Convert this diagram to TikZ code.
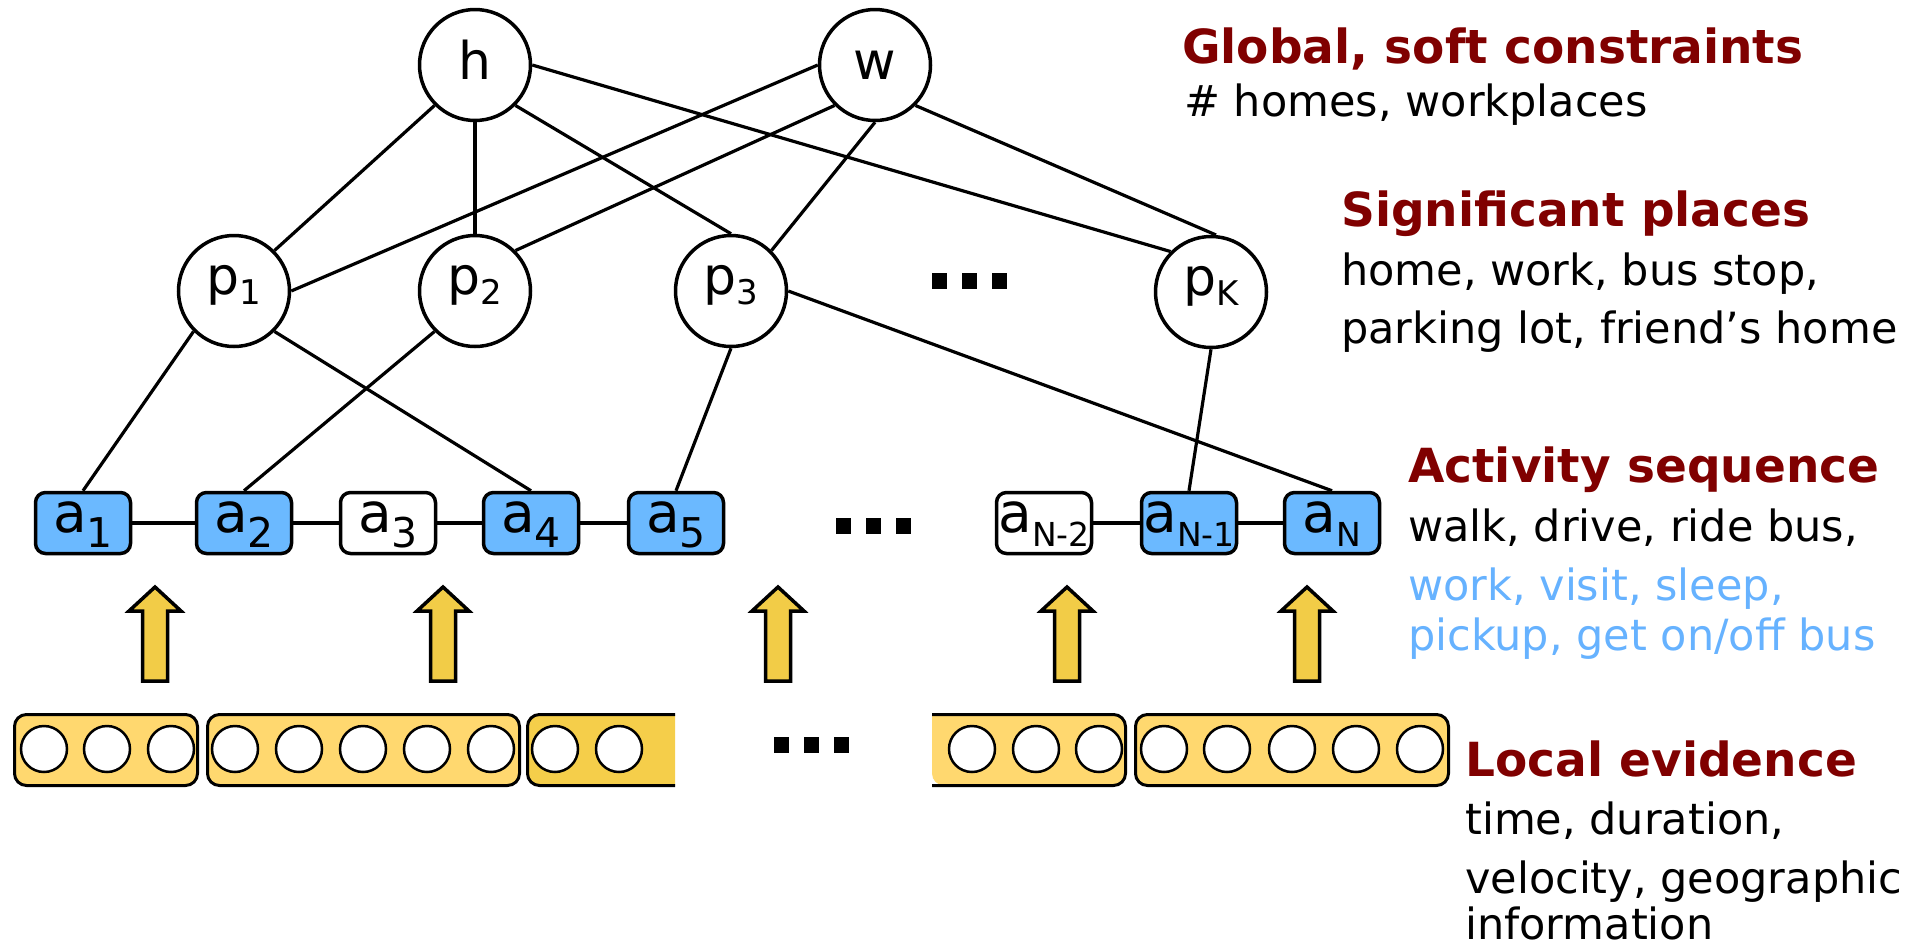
\documentclass[tikz,border=0pt]{standalone}
\usepackage{fontspec}
\setmainfont{DejaVu Sans}
\definecolor{headred}{RGB}{128,0,0}
\definecolor{actblue}{RGB}{107,185,255}
\definecolor{noteblue}{RGB}{102,178,255}
\definecolor{barlight}{RGB}{255,216,111}
\definecolor{bardark}{RGB}{245,206,74}
\definecolor{arrowfill}{RGB}{242,204,71}
% letter with a lowered subscript: base, subscript, subscript size, drop
\newcommand\lab[4]{#1\raisebox{-#4pt}{\fontsize{#3}{#3}\selectfont #2}}
\tikzset{
  var/.style={circle, draw, line width=3.5pt, minimum size=111pt, inner sep=0pt, fill=white,
    font=\fontsize{52}{52}\selectfont},
  tall/.style={text height=40pt, text depth=12pt},
  place/.style={text height=28pt, text depth=22pt},
  act/.style={draw, line width=3.5pt, rounded corners=10pt, minimum width=95pt, minimum height=61pt,
    inner sep=0pt, font=\fontsize{55}{55}\selectfont, text height=30pt, text depth=12pt},
  obs/.style={act, fill=actblue},
  hid/.style={act, fill=white},
  edge/.style={line width=3.2pt},
  evbar/.style={draw, line width=3pt, rounded corners=12pt, fill=barlight, inner sep=0pt,
    minimum height=71pt},
  evc/.style={circle, draw, line width=2.5pt, fill=white, minimum size=46pt, inner sep=0pt},
  blockarrow/.style={draw, line width=3.5pt, fill=arrowfill, line join=miter},
  dotsq/.style={fill=black},
  head/.style={anchor=base west, inner sep=0pt, text=headred, font=\fontsize{47}{47}\selectfont\bfseries},
  note/.style={anchor=base west, inner sep=0pt, font=\fontsize{43}{43}\selectfont},
}
\begin{document}
\begin{tikzpicture}[x=1pt, y=-1pt]
\useasboundingbox (0,0) rectangle (1912,951);

% global variables and significant places
\node[var, tall] (h) at (475,65) {h};
\node[var, tall] (w) at (875,65) {w};
\node[var, place] (p1) at (234,291) {\lab{p}{1}{34}{10}};
\node[var, place] (p2) at (475,291) {\lab{p}{2}{34}{10}};
\node[var, place] (p3) at (731,291) {\lab{p}{3}{34}{10}};
\node[var, place] (pK) at (1211,292) {\lab{p}{K}{34}{10}};

% activity sequence
\node[obs] (a1) at (83,523) {\lab{a}{1}{41}{15}};
\node[obs] (a2) at (244,523) {\lab{a}{2}{41}{15}};
\node[hid] (a3) at (388,523) {\lab{a}{3}{41}{15}};
\node[obs] (a4) at (531,523) {\lab{a}{4}{41}{15}};
\node[obs] (a5) at (676,523) {\lab{a}{5}{41}{15}};
\node[hid] (aNm2) at (1044,523) {\lab{a}{N-2}{33}{14}};
\node[obs] (aNm1) at (1189,523) {\lab{a}{N-1}{33}{14}};
\node[obs] (aN) at (1332,523) {\lab{a}{N}{33}{14}};

% constraints to places
\draw[edge] (h.225) -- (p1.45);
\draw[edge] (h.south) -- (p2.north);
\draw[edge] (h.315) -- (p3.north);
\draw[edge] (h.0) -- (pK.135);
\draw[edge] (w.180) -- (p1.0);
\draw[edge] (w.225) -- (p2.45);
\draw[edge] (w.south) -- (p3.45);
\draw[edge] (w.315) -- (pK.85);

% places to activities
\draw[edge] (p1.225) -- (a1.north);
\draw[edge] (p1.315) -- (a4.north);
\draw[edge] (p2.225) -- (a2.north);
\draw[edge] (p3.south) -- (a5.north);
\draw[edge] (p3.0) -- (aN.north);
\draw[edge] (pK.south) -- (aNm1.north);

% chain of activities
\draw[edge] (a1) -- (a2);
\draw[edge] (a2) -- (a3);
\draw[edge] (a3) -- (a4);
\draw[edge] (a4) -- (a5);
\draw[edge] (aNm2) -- (aNm1);
\draw[edge] (aNm1) -- (aN);

% ellipses
\foreach \cx/\cy in {939.5/281, 969/281, 999/281, 843/526, 873/526, 903/526, 781.5/745, 811.5/745, 841.5/745}
  \fill[dotsq] (\cx-7.5,\cy-8) rectangle (\cx+7.5,\cy+8);

% evidence arrows
\foreach \cx in {155, 443, 778, 1067, 1307}
  \draw[blockarrow] (\cx,587) -- (\cx+26,611) -- (\cx+12.5,611) -- (\cx+12.5,681)
    -- (\cx-12.5,681) -- (\cx-12.5,611) -- (\cx-26,611) -- cycle;

% local evidence segments
\node[evbar, minimum width=183pt] (ev1) at (106,750) {};
\node[evbar, minimum width=312pt] (ev2) at (363.5,750) {};
\node[evbar, minimum width=313pt] (ev5) at (1292,750) {};
\fill[bardark] (675,714.5) [rounded corners=12pt] -- (527.5,714.5) -- (527.5,785.5) [sharp corners] -- (675,785.5) -- cycle;
\draw[line width=3pt, rounded corners=12pt] (675,714.5) -- (527.5,714.5) -- (527.5,785.5) -- (675,785.5);
\fill[barlight, rounded corners=12pt] (932,714.5) -- (1125.5,714.5) -- (1125.5,785.5) -- (932,785.5) [sharp corners] -- cycle;
\draw[line width=3pt, rounded corners=12pt] (932,714.5) -- (1125.5,714.5) -- (1125.5,785.5) -- (932,785.5);
\foreach \i/\ex in {1/44, 2/107, 3/171, 4/235, 5/299, 6/363, 7/427, 8/491, 9/555, 10/619,
                    11/972, 12/1036, 13/1099, 14/1164, 15/1227, 16/1292, 17/1356, 18/1420}
  \node[evc] (e\i) at (\ex,749) {};

% legend
\node[head] (t1) at (1182,63) {Global, soft constraints};
\node[note] (t1a) at (1184,116) {\# homes, workplaces};
\node[head] (t2) at (1341,226) {Significant places};
\node[note] (t2a) at (1341,285) {home, work, bus stop,};
\node[note] (t2b) at (1341,343) {parking lot, friend’s home};
\node[head] (t3) at (1408,482) {Activity sequence};
\node[note] (t3a) at (1408,541) {walk, drive, ride bus,};
\node[note, text=noteblue] (t3b) at (1408,600) {work, visit, sleep,};
\node[note, text=noteblue] (t3c) at (1408,650) {pickup, get on/off bus};
\node[head] (t4) at (1465,776) {Local evidence};
\node[note] (t4a) at (1465,834) {time, duration,};
\node[note] (t4b) at (1465,893) {velocity, geographic};
\node[note] (t4c) at (1465,939) {information};
\end{tikzpicture}
\end{document}
